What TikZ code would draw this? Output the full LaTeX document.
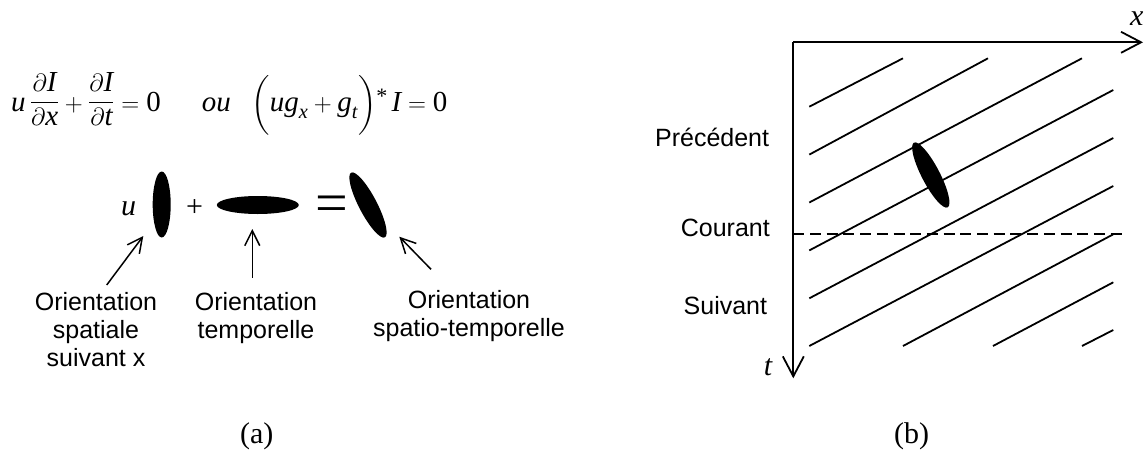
\documentclass[tikz,border=0pt]{standalone}
\usepackage{amsmath}
\usepackage{fontspec}
\setmainfont{Liberation Serif}
\newfontfamily\arialf{Liberation Sans}
\usetikzlibrary{arrows.meta,shapes.geometric}
\newcommand{\rfrac}[2]{\raisebox{3pt}{$\displaystyle\frac{#1}{#2}$}}
\begin{document}
\begin{tikzpicture}[x=1pt,y=-1pt,
 blob/.style={ellipse,fill=black,draw=none,inner sep=0pt,outer sep=0pt},
 lbl/.style={font=\arialf\fontsize{25}{28.3}\selectfont,inner sep=0pt,align=center},
 ptr/.style={line width=1.5pt,-{Straight Barb[length=15pt,width=15pt]}},
 hatch/.style={line width=1.8pt},
 axisline/.style={line width=1.8pt,-{Straight Barb[length=20pt,width=21pt]}},
 eqn/.style={font=\fontsize{29}{34}\selectfont,inner sep=0pt},
 capt/.style={font=\fontsize{30}{34}\selectfont,inner sep=0pt},
 var/.style={font=\fontsize{30}{34}\selectfont\itshape,inner sep=0pt},
]
\useasboundingbox (0,0) rectangle (1144,453);

% ---------- panel (a) ----------
\node[eqn,anchor=base west] (eqA) at (11,111.7)
 {$\textit{u}\,\rfrac{\partial \textit{I}}{\partial \textit{x}}+\rfrac{\partial \textit{I}}{\partial \textit{t}}=\textup{0}$};
\node[eqn,anchor=base west] (eqB) at (201.7,111.7)
 {$\textit{ou}\;\;\;\biggl(\textit{ug}_{\textit{x}}+\textit{g}_{\textit{t}}\biggr)\raisebox{0.3em}{\fontsize{22}{22}\selectfont *}\,\textit{I}=\textup{0}$};

\node[var,anchor=base] (uu) at (128.7,215) {u};
\node[blob,minimum width=18pt,minimum height=66pt] (e1) at (161.7,204.5) {};
\node[capt,anchor=base] (plus) at (194.7,216) {+};
\node[blob,minimum width=82pt,minimum height=18pt] (e2) at (257.8,205) {};
\node[font=\fontsize{58}{60}\selectfont,inner sep=0pt,anchor=base] (eqsign) at (331.7,222) {=};
\node[blob,minimum width=73pt,minimum height=18pt,rotate=-62.5] (e3) at (368,205) {};

\node[lbl,anchor=base] (l1) at (96,366.6) {Orientation\\spatiale\\suivant x};
\node[lbl,anchor=base] (l2) at (256,338.3) {Orientation\\temporelle};
\node[lbl,anchor=base] (l3) at (469,336.6) {Orientation\\spatio-temporelle};

\coordinate (a1s) at (106.7,285);
\coordinate (a1e) at (143.3,236);
\coordinate (a2s) at (252.3,277.7);
\coordinate (a2e) at (252.3,229);
\coordinate (a3s) at (431,269.3);
\coordinate (a3e) at (399.3,236.7);
\draw[ptr] (a1s) -- (a1e);
\draw[ptr] (a2s) -- (a2e);
\draw[ptr] (a3s) -- (a3e);

\node[capt,anchor=base] (capa) at (256.7,443) {(a)};

% ---------- panel (b) ----------
\coordinate (O) at (793.3,42.3);
\coordinate (X) at (1143,42.3);
\coordinate (T) at (793.3,378.3);
\draw[axisline] (O) -- (X);
\draw[axisline] (O) -- (T);
\node[var,anchor=base] (xl) at (1136.7,25) {x};
\node[var,anchor=base] (tl) at (768,375) {t};

\draw[hatch] (809.3,106.7) -- (903,58.3);
\draw[hatch] (809.3,154.6) -- (988,58.3);
\draw[hatch] (809.3,202.5) -- (1082,58.3);
\draw[hatch] (809.3,250.4) -- (1113.3,90);
\draw[hatch] (809.3,298.3) -- (1113.3,138);
\draw[hatch] (809.3,346) -- (1113.3,186);
\draw[hatch] (903,346) -- (1113.3,234.3);
\draw[hatch] (993,346) -- (1113.3,282.3);
\draw[hatch] (1082,346) -- (1113.3,330);

\coordinate (dS) at (793.3,234.3);
\coordinate (dE) at (1126.7,234.3);
\draw[line width=1.8pt,dash pattern=on 11pt off 5.7pt] (dS) -- (dE);

\node[blob,minimum width=73pt,minimum height=18pt,rotate=-62.5] (e4) at (930.8,175) {};

\node[lbl,anchor=base east] (prec) at (769.3,146) {Précédent};
\node[lbl,anchor=base east] (cour) at (770,236) {Courant};
\node[lbl,anchor=base east] (suiv) at (767.3,314) {Suivant};

\node[capt,anchor=base] (capb) at (911.7,443) {(b)};
\end{tikzpicture}
\end{document}
